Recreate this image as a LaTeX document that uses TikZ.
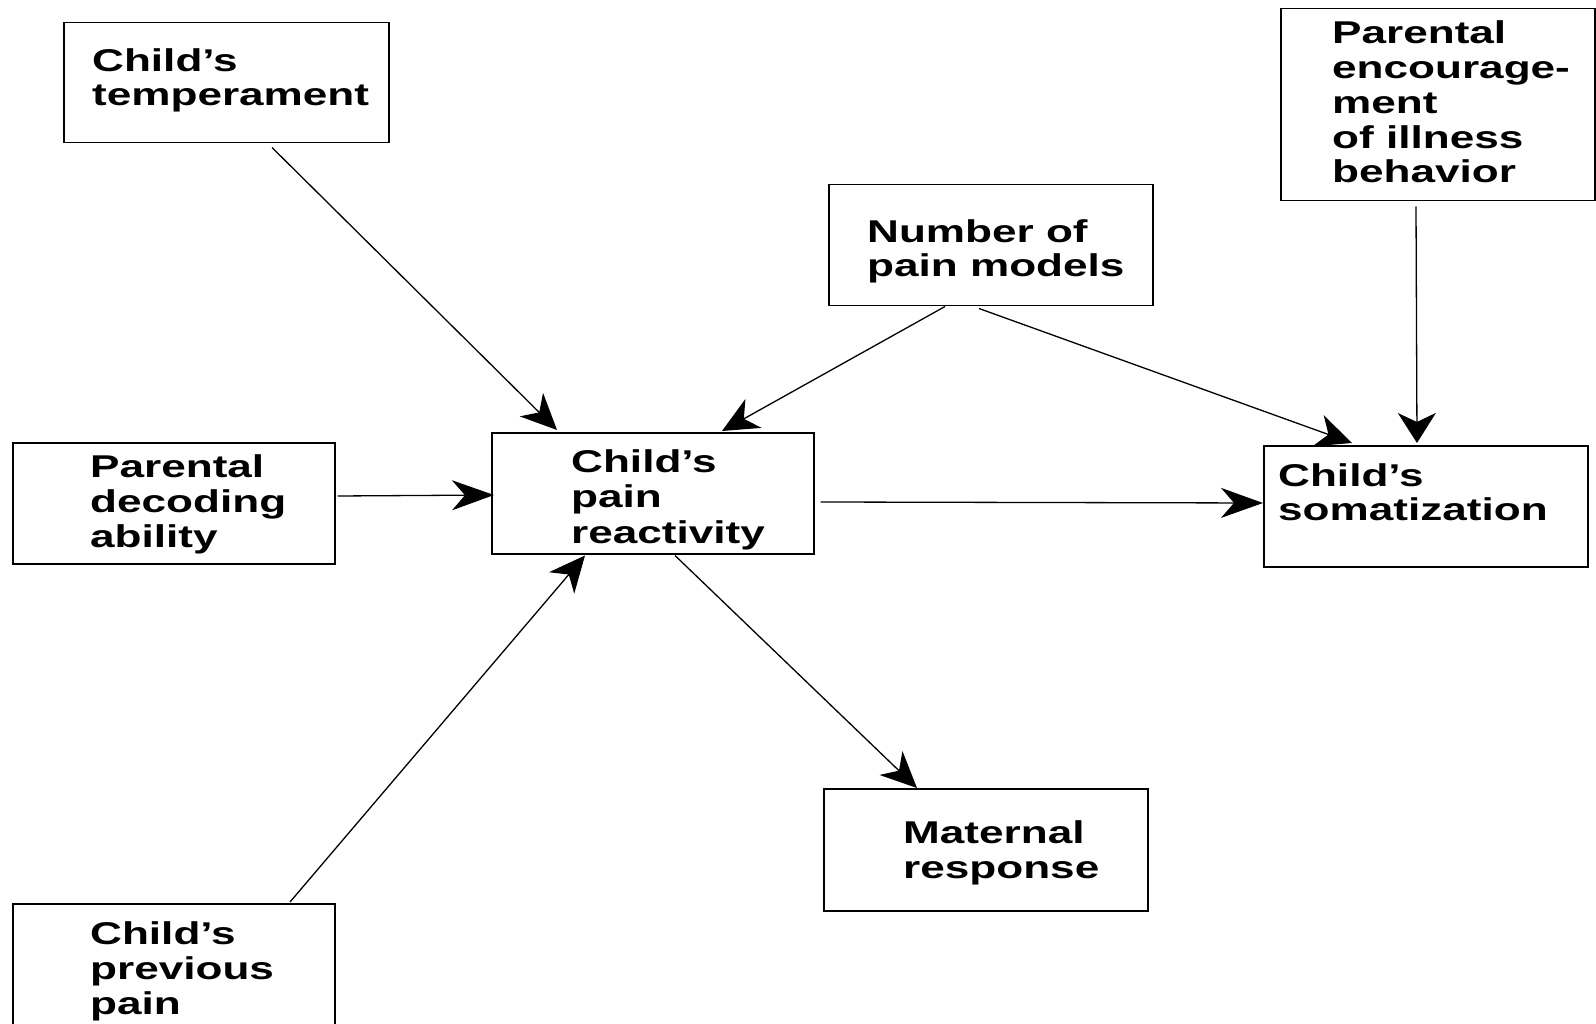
\documentclass[tikz,border=0pt]{standalone}
\usepackage{fontspec}
\newfontfamily\labfont{Liberation Sans}[FakeStretch=1.4]
\usetikzlibrary{arrows.meta,calc}
\begin{document}
\begin{tikzpicture}[x=1pt,y=-1pt,
  boxst/.style={draw,line width=1.5pt,inner sep=0pt,anchor=north west},
  labst/.style={inner sep=0pt,anchor=base west,align=left,
    font=\labfont\bfseries\fontsize{31.5}{34.8}\selectfont},
  arrH/.style={line width=1.3pt,-{Stealth[length=42pt,width=30pt,inset=13pt]}},
  arrV/.style={line width=1.3pt,-{Stealth[length=30pt,width=38pt,inset=9pt]}},
  arrD/.style={line width=1.3pt,-{Stealth[length=36pt,width=33pt,inset=11pt]}}]
\useasboundingbox (0,0) rectangle (1596,1024);
\clip (0,0) rectangle (1596,1024);
\fill[white] (0,0) rectangle (1596,1024);
% boxes
\node[boxst,minimum width=325pt,minimum height=120pt] (temp) at (63,22) {};
\node[boxst,minimum width=314pt,minimum height=192pt] (enc) at (1280,8) {};
\node[boxst,minimum width=324pt,minimum height=121pt] (num) at (828,184) {};
\node[boxst,minimum width=322pt,minimum height=121pt] (dec) at (12,442) {};
\node[boxst,minimum width=322pt,minimum height=121pt] (react) at (491,432) {};
\node[boxst,minimum width=324pt,minimum height=121pt] (som) at (1263,445) {};
\node[boxst,minimum width=324pt,minimum height=122pt] (mat) at (823,788) {};
\node[boxst,minimum width=322pt,minimum height=140pt] (prev) at (12,903) {};
% labels (anchored at the baseline of the last line)
\node[labst,font=\labfont\bfseries\fontsize{31.5}{33.5}\selectfont] (ttemp) at (92,105.5) {Child’s\\temperament};
\node[labst] (tenc) at (1332,183) {Parental\\encourage-\\ment\\of illness\\behavior};
\node[labst,font=\labfont\bfseries\fontsize{31.5}{34}\selectfont] (tnum) at (867,277) {Number of\\pain models};
\node[labst] (tdec) at (90,547) {Parental\\decoding\\ability};
\node[labst,font=\labfont\bfseries\fontsize{31.5}{35.5}\selectfont] (treact) at (571,543) {Child’s\\pain\\reactivity};
\node[labst,font=\labfont\bfseries\fontsize{31.5}{34}\selectfont] (tsom) at (1278,520) {Child’s\\somatization};
\node[labst] (tmat) at (903,878) {Maternal\\response};
\node[labst] (tprev) at (90,1014) {Child’s\\previous\\pain};
% connectors
\draw[arrD] ($(temp.south west)+(209,4)$) -- ($(react.north west)+(66,-2)$);
\draw[arrH] ($(dec.north east)+(2,54)$) -- ($(react.north west)+(3,63)$);
\draw[arrD] ($(prev.north west)+(278,-1)$) -- ($(react.south west)+(94,1)$);
\draw[arrD] ($(num.south west)+(117,0)$) -- ($(react.north west)+(231,-1)$);
\draw[arrD] ($(num.south west)+(151,2)$) -- ($(som.north west)+(89,-2)$);
\draw[arrV] ($(enc.south west)+(136,5)$) -- ($(som.north west)+(154,-2)$);
\draw[arrH] ($(react.north east)+(6,70)$) -- ($(som.north west)+(0,58)$);
\draw[arrD] ($(react.south west)+(184,1)$) -- ($(mat.north west)+(94,0)$);
\end{tikzpicture}
\end{document}
